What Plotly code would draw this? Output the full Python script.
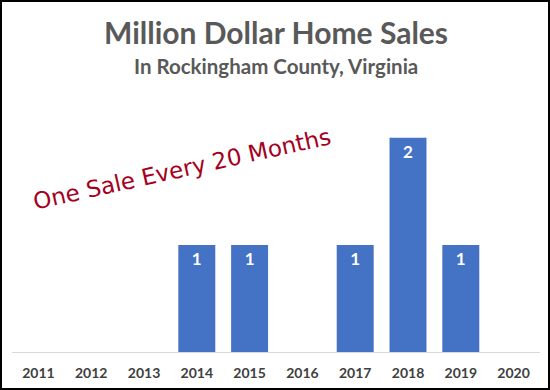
import plotly.graph_objects as go

years = ["2011", "2012", "2013", "2014", "2015", "2016", "2017", "2018", "2019", "2020"]
sales = [0, 0, 0, 1, 1, 0, 1, 2, 1, 0]
labels = ["" if v == 0 else str(v) for v in sales]

W, H = 550, 390
L, R, T, B = 12, 10, 95, 38
pw, ph = W - L - R, H - T - B


def px(x):
    return (x - L) / pw


def py(y):
    return (H - B - y) / ph


fig = go.Figure(go.Bar(
    x=years, y=sales, text=labels,
    marker=dict(color="#4472C4", line=dict(width=0)),
    textposition="inside", insidetextanchor="end",
    textfont=dict(color="white", size=17, family="Lato", weight="bold"),
    width=0.7,
))

fig.update_layout(
    width=W, height=H,
    margin=dict(l=L, r=R, t=T, b=B),
    paper_bgcolor="white", plot_bgcolor="white",
    showlegend=False,
    xaxis=dict(showline=True, linecolor="#D9D9D9", linewidth=1, ticks="",
               ticklabelstandoff=8,
               tickfont=dict(size=14, color="#404040", family="Lato", weight="bold"),
               showgrid=False),
    yaxis=dict(range=[0, 2.4], visible=False, showgrid=False),
    annotations=[
        dict(text="Million Dollar Home Sales", x=px(276), y=py(32), xref="paper", yref="paper",
             xanchor="center", yanchor="middle",
             showarrow=False, font=dict(size=30, color="#595959", family="Lato", weight="bold")),
        dict(text="In Rockingham County, Virginia", x=px(276), y=py(66), xref="paper", yref="paper",
             xanchor="center", yanchor="middle",
             showarrow=False, font=dict(size=20.5, color="#595959", family="Lato", weight="bold")),
        dict(text="One Sale Every 20 Months", x=px(182), y=py(169), xref="paper", yref="paper",
             xanchor="center", yanchor="middle",
             showarrow=False, textangle=-12.5,
             font=dict(size=23, color="#A50021", family="DejaVu Sans")),
    ],
)

fig.add_shape(type="rect", xref="paper", yref="paper",
              x0=px(1), x1=px(W - 1),
              y0=py(H - 1), y1=py(1),
              line=dict(color="black", width=2), fillcolor="rgba(0,0,0,0)")

fig.write_html("out.html")
